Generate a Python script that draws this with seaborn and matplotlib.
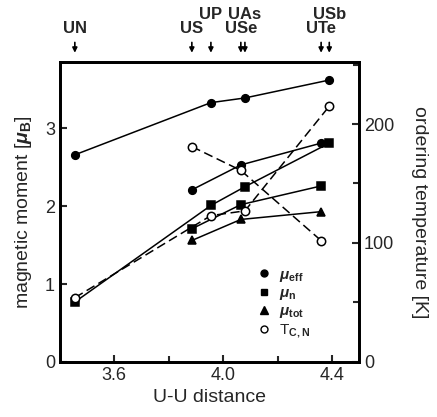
import matplotlib
matplotlib.use("Agg")
import matplotlib.pyplot as plt
from matplotlib.lines import Line2D
from matplotlib.ticker import MultipleLocator, FixedLocator
import seaborn as sns
import pandas as pd

# ---- data ----
compounds = ["UN", "US", "UP", "USe", "UAs", "UTe", "USb"]
uu_dist = [3.455, 3.885, 3.955, 4.065, 4.08, 4.36, 4.39]
label_row = [0, 0, 1, 0, 1, 0, 1]  # 1 = upper row

# pnictides: UN, UP, UAs, USb
pn_x = [3.455, 3.955, 4.08, 4.39]
pn_mu_eff = [2.66, 3.33, 3.39, 3.62]
pn_mu_n = [0.77, 2.01, 2.25, 2.81]
pn_T = [54, 123, 127, 215]

# chalcogenides: US, USe, UTe
ch_x = [3.885, 4.065, 4.36]
ch_mu_eff = [2.21, 2.53, 2.81]
ch_mu_n = [1.71, 2.02, 2.26]
ch_mu_tot = [1.56, 1.83, 1.93]
ch_T = [181, 161, 102]

legend_labels = [r"$\mu_{\rm eff}$", r"$\mu_{\rm n}$", r"$\mu_{\rm tot}$", r"T$_{\rm C,N}$"]

sns.set_style("ticks")
plt.rcParams["font.family"] = ["Liberation Sans", "DejaVu Sans"]
plt.rcParams["mathtext.fontset"] = "custom"
plt.rcParams["mathtext.rm"] = "Liberation Sans:bold"
plt.rcParams["mathtext.it"] = "Liberation Sans:italic:bold"

fig = plt.figure(figsize=(4.37, 4.17), dpi=100)
ax = fig.add_axes([0.137, 0.132, 0.685, 0.719])
ax2 = ax.twinx()

def draw(axis, x, y, marker, filled, ls):
    df = pd.DataFrame({"x": x, "y": y})
    sns.lineplot(data=df, x="x", y="y", ax=axis, color="black", lw=1.1,
                 linestyle=ls, marker=marker, markersize=5.5 if marker != "o" or filled else 6,
                 markerfacecolor="black" if filled else "white",
                 markeredgecolor="black", markeredgewidth=1.1,
                 estimator=None, sort=False, legend=False)

draw(ax, pn_x, pn_mu_eff, "o", True, "-")
draw(ax, ch_x, ch_mu_eff, "o", True, "-")
draw(ax, pn_x, pn_mu_n, "s", True, "-")
draw(ax, ch_x, ch_mu_n, "s", True, "-")
draw(ax, ch_x, ch_mu_tot, "^", True, "-")
draw(ax2, pn_x, pn_T, "o", False, (0, (6, 3)))
draw(ax2, ch_x, ch_T, "o", False, (0, (6, 3)))

ax.set_xlim(3.4, 4.5)
ax.set_ylim(0, 3.85)
ax2.set_ylim(0, 252)

ax.xaxis.set_major_locator(FixedLocator([3.6, 4.0, 4.4]))
ax.xaxis.set_minor_locator(FixedLocator([3.8, 4.2]))
ax.set_xticklabels(["3.6", "4.0", "4.4"])
ax.yaxis.set_major_locator(MultipleLocator(1))
ax2.yaxis.set_major_locator(MultipleLocator(100))
ax2.yaxis.set_minor_locator(MultipleLocator(50))

for a in (ax, ax2):
    for s in a.spines.values():
        s.set_visible(True)
        s.set_linewidth(2)
        s.set_color("black")
ax.tick_params(axis="both", which="both", direction="in", labelsize=13, width=1.5, length=5, top=False)
ax.tick_params(axis="x", which="minor", length=4)
ax2.tick_params(axis="y", which="both", direction="in", labelsize=13, width=1.5, length=5)
ax2.tick_params(axis="y", which="minor", length=4)

ax.set_xlabel("U-U distance", fontsize=14, labelpad=4)
ax.set_ylabel(r"magnetic moment [$\mu_{\rm B}$]", fontsize=14, labelpad=8)
ax2.set_ylabel("ordering temperature [K]", fontsize=14, rotation=-90, labelpad=24)

# top compound markers
trans = ax.get_xaxis_transform()
for name, xv, row in zip(compounds, uu_dist, label_row):
    ax.annotate("", xy=(xv, 1.022), xytext=(xv, 1.075), xycoords=trans, textcoords=trans,
                arrowprops=dict(arrowstyle="-|>", lw=1.2, color="black", mutation_scale=7))
    ax.text(xv, 1.16 if row else 1.113, name, transform=trans, ha="center", va="center",
            fontsize=12, fontweight="bold")

handles = [
    Line2D([], [], ls="none", marker="o", color="black", markersize=5),
    Line2D([], [], ls="none", marker="s", color="black", markersize=5),
    Line2D([], [], ls="none", marker="^", color="black", markersize=5.5),
    Line2D([], [], ls="none", marker="o", markerfacecolor="white", markeredgecolor="black", markersize=5),
]
ax.legend(handles, legend_labels, loc="upper left", bbox_to_anchor=(0.64, 0.335),
          frameon=False, fontsize=11, handlelength=0.8, handletextpad=0.6,
          labelspacing=0.15, borderaxespad=0)

fig.savefig("out.png", dpi=100)
